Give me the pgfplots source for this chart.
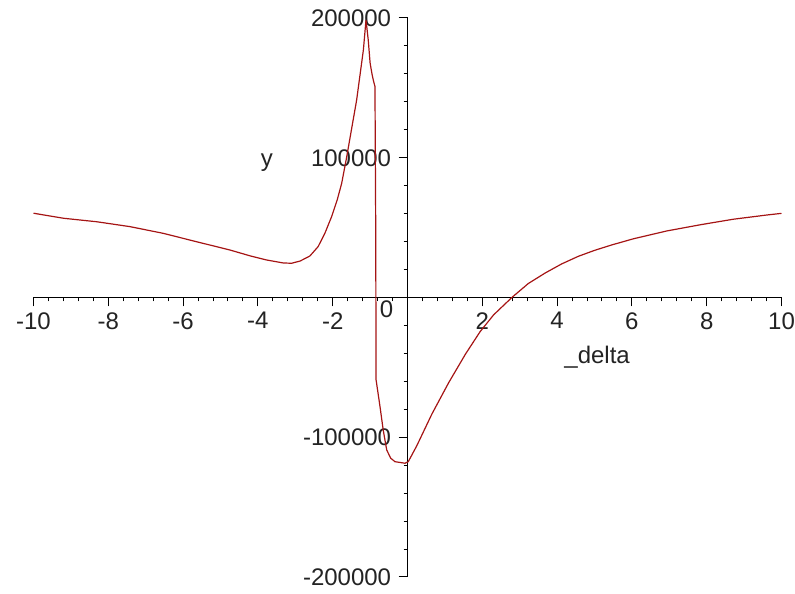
\documentclass[border=0pt]{standalone}
\usepackage{fontspec}
\setmainfont{Liberation Sans}
\usepackage{pgfplots}
\pgfplotsset{compat=1.18}
\definecolor{maplered}{RGB}{165,20,20}
\definecolor{labgray}{RGB}{35,35,35}

\begin{document}
\begin{tikzpicture}
  \begin{axis}[
      scale only axis,
      width=374pt, height=279.5pt,
      xmin=-10, xmax=10,
      ymin=-200000, ymax=200000,
      axis lines=middle,
      axis line style={-, line width=0.6pt},
      tick align=outside,
      major tick length=4.5pt,
      minor tick length=2pt,
      tick style={black, line width=0.5pt},
      xtick={-10,-8,-6,-4,-2,2,4,6,8,10},
      xticklabels={-10,-8,-6,-4,-2,2,4,6,8,10},
      minor xtick={-9.6,-9.2,...,9.7},
      ytick={-200000,-100000,100000,200000},
      yticklabels={-200000,-100000,100000,200000},
      minor ytick={-180000,-160000,...,180000},
      scaled y ticks=false,
      font=\fontsize{12}{14}\selectfont,
      xticklabel style={inner sep=0pt, anchor=north, yshift=-2.75pt, text=labgray},
      yticklabel style={inner sep=0pt, anchor=east, xshift=-3.5pt, text=labgray},
      clip=false,
    ]
    \addplot[color=maplered, line width=0.6pt] coordinates {
        (-10,60300) (-9.2,56700) (-8.31,54200) (-7.42,50700) (-6.53,45900)
        (-5.64,39900) (-4.75,34000) (-4.21,29800) (-3.76,26800) (-3.32,24700)
        (-3.1,24500) (-2.87,26100) (-2.61,29700) (-2.39,36400) (-2.21,45900)
        (-2.03,57800) (-1.88,69800) (-1.76,81700) (-1.63,100000) (-1.36,141300)
        (-1.18,177100) (-1.11,198600) (-1.05,184300) (-1.00,167800) (-0.95,160000)
        (-0.91,155000) (-0.87,151000) (-0.85,50000) (-0.84,-59000) (-0.735,-78100)
        (-0.65,-94800) (-0.556,-109100) (-0.45,-115000) (-0.334,-117500) (-0.067,-118600)
        (0.02,-117500) (0.25,-106000) (0.65,-83500) (1.1,-61000) (1.55,-40500)
        (1.94,-24500) (2.3,-12500) (2.79,0) (3.23,10000) (3.68,17500)
        (4.12,24000) (4.57,29500) (5.01,33800) (5.46,37600) (6.04,42000)
        (6.93,47600) (7.82,52000) (8.71,56000) (9.60,59000) (10.0,60200)
      };
    \node[inner sep=0pt, anchor=north, text=labgray] at (axis cs:-0.56,0) [yshift=-1.25pt] {0};
    \node[inner sep=0pt, text=labgray] at (axis cs:-3.76,96200) {y};
    \node[inner sep=0pt, text=labgray] at (axis cs:5.07,-42600) {\_delta};
    \coordinate (bbl) at (axis cs:-10.896,-212165);
    \coordinate (btr) at (axis cs:10.361,212880);
  \end{axis}
  \pgfresetboundingbox
  \path[use as bounding box] (bbl) rectangle (btr);
\end{tikzpicture}
\end{document}
